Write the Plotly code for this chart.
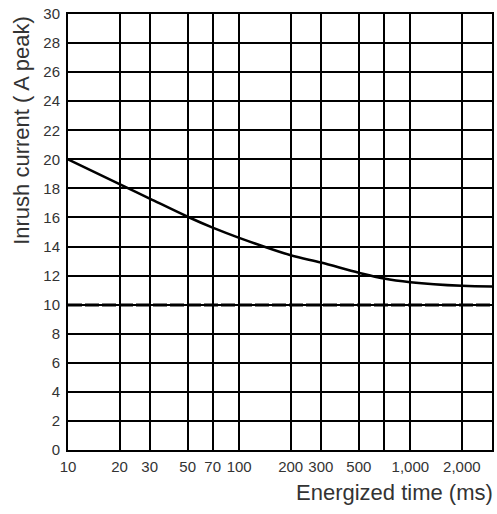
import plotly.graph_objects as go

# Data
time_ms = [10, 20, 30, 50, 70, 100, 200, 300, 500, 700, 1000, 2000, 3000]
inrush_a = [20.0, 18.3, 17.3, 16.05, 15.3, 14.6, 13.4, 12.9, 12.2, 11.8, 11.55, 11.3, 11.25]
steady_time = [10, 3000]
steady_a = [9.97, 9.97]

x_tickvals = [10, 20, 30, 50, 70, 100, 200, 300, 500, 700, 1000, 2000, 3000]
x_ticktext = ["10", "20", "30", "50", "70", "100", "200", "300", "500", "", "1,000", "2,000", ""]
y_tickvals = list(range(0, 31, 2))

font_main = "Liberation Sans Narrow, Arial Narrow, Liberation Sans, Arial, sans-serif"
title_font = "Liberation Sans, Arial, sans-serif"
text_color = "#333333"

fig = go.Figure()
fig.add_trace(go.Scatter(
    x=steady_time, y=steady_a, mode="lines",
    line=dict(color="black", width=3, dash="14px,3px"),
    showlegend=False, hoverinfo="skip"))
fig.add_trace(go.Scatter(
    x=time_ms, y=inrush_a, mode="lines", line_shape="spline",
    line=dict(color="black", width=2.5),
    showlegend=False))

fig.update_layout(
    width=497, height=514,
    margin=dict(l=68, r=3, t=14, b=64),
    paper_bgcolor="white", plot_bgcolor="white",
    font=dict(family=font_main, color=text_color, size=15),
    xaxis=dict(
        type="log", range=[1, 3.4771],
        tickvals=x_tickvals, ticktext=x_ticktext,
        showgrid=True, gridcolor="black", gridwidth=2,
        showline=True, linecolor="black", linewidth=2, mirror=True,
        ticks="", ticklabelstandoff=2,
        tickfont=dict(size=15, color=text_color, family=font_main),
        zeroline=False),
    yaxis=dict(
        range=[0, 30], tickvals=y_tickvals,
        showgrid=True, gridcolor="black", gridwidth=2,
        showline=True, linecolor="black", linewidth=2, mirror=True,
        ticks="", ticklabelstandoff=3,
        tickfont=dict(size=15, color=text_color, family=font_main),
        zeroline=False),
    annotations=[
        dict(text="Energized time (ms)", xref="paper", yref="paper",
             x=1.007, y=-0.065, xanchor="right", yanchor="top", showarrow=False,
             font=dict(size=22, color=text_color, family=title_font)),
        dict(text="Inrush current ( A peak)", xref="paper", yref="paper",
             x=-0.11, y=1.0, xanchor="center", yanchor="top", textangle=-90,
             showarrow=False,
             font=dict(size=22, color=text_color, family=title_font)),
    ],
)

fig.write_html("out.html", config={"displayModeBar": False},
               post_script="document.body.style.margin='0';document.body.style.overflow='hidden';")
